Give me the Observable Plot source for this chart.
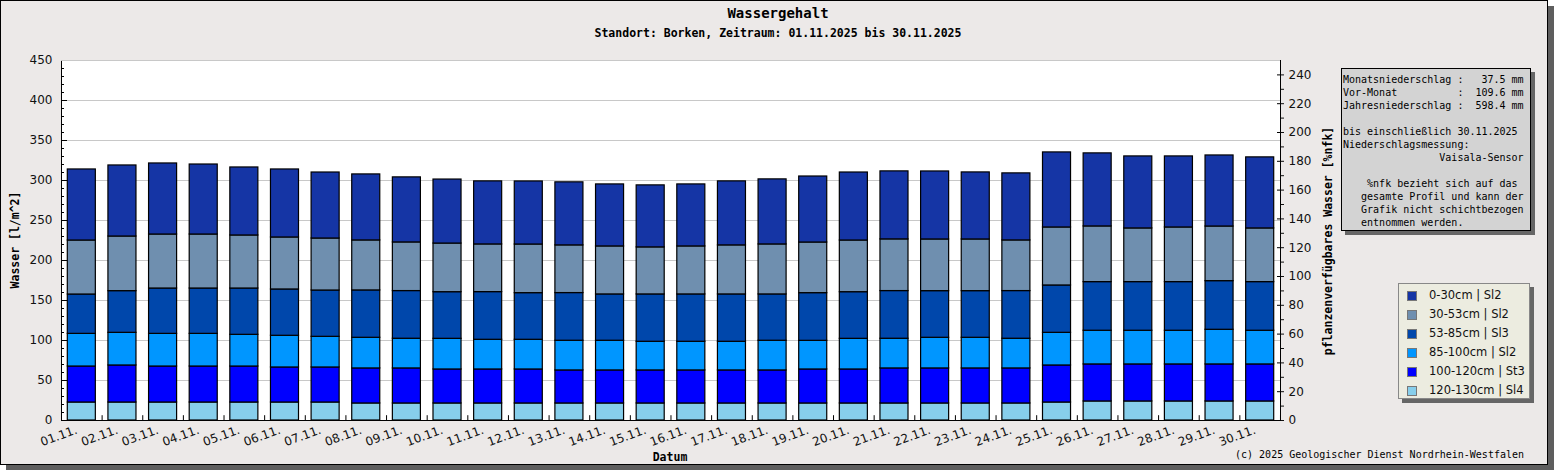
<!DOCTYPE html>
<html><head><meta charset="utf-8">
<script src="https://cdn.jsdelivr.net/npm/d3@7"></script>
<script src="https://cdn.jsdelivr.net/npm/@observablehq/plot@0.6"></script>
<style>
body{margin:0;background:#fff;}
#wrap{position:relative;width:1555px;height:470px;overflow:hidden;background:#fff;}
#box{position:absolute;left:0;top:0;width:1548px;height:465px;box-sizing:border-box;border:1px solid #000;background:#ECE9E8;box-shadow:6px 6px 0 #5e5e5e;}
#chart{position:absolute;left:0;top:0;}
.mono{font-family:"DejaVu Sans Mono",monospace;color:#000;position:absolute;white-space:pre;}
#title{left:0;width:1556px;text-align:center;top:5px;font-size:14px;font-weight:bold;}
#subtitle{left:0;width:1556px;text-align:center;top:26px;font-size:11.5px;font-weight:bold;}
.ytitle{font-size:11.5px;font-weight:bold;transform:translate(-50%,-50%) rotate(-90deg);}
#datum{left:670px;top:457px;transform:translate(-50%,-50%);font-size:11.5px;font-weight:bold;}
#caption{right:31px;top:449px;font-size:10px;}
#info{left:1341px;top:68px;width:190px;height:163px;box-sizing:border-box;border:1px solid #000;background:#D3D3D3;box-shadow:4px 4px 0 #666;font-size:10px;line-height:13px;padding:4px 0 0 1px;}
#legend{position:absolute;left:1398px;top:283px;width:132px;height:116px;box-sizing:border-box;border:1px solid #888;background:#ECECE0;box-shadow:4px 4px 0 #666;}
.li{position:absolute;left:8px;height:19px;font-family:"DejaVu Sans",sans-serif;font-size:11.5px;color:#111;}
.sw{position:absolute;left:0;top:0;width:10px;height:10px;box-sizing:border-box;border:1px solid #777;}
.lt{position:absolute;left:22px;top:-3px;white-space:nowrap;}
</style></head><body>
<div id="wrap">
<div id="box"></div>
<div id="chart"></div>
<div id="title" class="mono">Wassergehalt</div>
<div id="subtitle" class="mono">Standort: Borken, Zeitraum: 01.11.2025 bis 30.11.2025</div>
<div class="mono ytitle" style="left:15px;top:240px;">Wasser [l/m^2]</div>
<div class="mono ytitle" style="left:1328px;top:241px;">pflanzenverfügbares Wasser [%nfk]</div>
<div id="datum" class="mono">Datum</div>
<div id="caption" class="mono">(c) 2025 Geologischer Dienst Nordrhein-Westfalen</div>
<div id="info" class="mono"></div>
<div id="legend"></div>
</div>
<script>
const dates = ["01.11.","02.11.","03.11.","04.11.","05.11.","06.11.","07.11.","08.11.","09.11.","10.11.",
  "11.11.","12.11.","13.11.","14.11.","15.11.","16.11.","17.11.","18.11.","19.11.","20.11.",
  "21.11.","22.11.","23.11.","24.11.","25.11.","26.11.","27.11.","28.11.","29.11.","30.11."];
const layers = ["0-30cm | Sl2","30-53cm | Sl2","53-85cm | Sl3","85-100cm | Sl2","100-120cm | St3","120-130cm | Sl4"];
const colors = ["#1535A5","#6F8FAF","#0047AB","#0096FF","#0000FF","#87CEEB"];
// water per layer [l/m^2]
const w0_30 = [88.8,88.8,88.8,87.5,85,85,82.5,82.5,81.3,80, 78.8,78.8,78.8,77.5,77.5,77.5,80,81.3,82.5,85, 85,85,83.8,83.8,93.8,91.3,90,88.8,88.8,88.8];
const w30_53 = [67.5,68.3,67.5,67.5,66.3,65,65,62.5,60.8,60.8, 59.6,60.8,59.6,60,58.8,60,61.3,62.5,63.3,64.6, 64.6,64.6,64.6,63.3,72.5,69.6,67.1,68.3,68.3,67.1];
const w53_85 = [49.2,52.1,56.7,56.7,57.9,57.9,57.9,59.2,59.6,58.3, 59.6,58.3,59.6,57.9,59.2,59.2,59.2,57.9,59.6,58.3, 59.6,58.3,58.3,59.6,59.2,60.8,60.8,60.8,60.8,60.8];
const w85_100 = [40.8,40.8,40.8,40.8,39.6,39.6,38.3,38.3,37.1,38.3, 37.1,37.1,37.1,37.1,35.8,35.8,35.8,37.1,35.8,38.3, 37.1,38.3,38.3,37.1,40.8,42.1,42.1,42.1,43.3,42.1];
const w100_120 = [45,46.3,45,45,45,43.8,43.8,43.8,43.8,42.5, 42.5,42.5,41.3,41.3,41.3,41.3,41.3,41.3,42.5,42.5, 43.8,43.8,43.8,43.8,46.3,46.3,46.3,46.3,46.3,46.3];
const w120_130 = [22.5,22.5,22.5,22.5,22.5,22.5,22.5,21.3,21.3,21.3, 21.3,21.3,21.3,21.3,21.3,21.3,21.3,21.3,21.3,21.3, 21.3,21.3,21.3,21.3,22.5,23.8,23.8,23.8,23.8,23.8];
const leftMajor = [0,50,100,150,200,250,300,350,400,450];
const leftMinor = [0,10,20,30,40,50,60,70,80,90,100,110,120,130,140,150,160,170,180,190,200,210,220,230,240,250,260,270,280,290,300,310,320,330,340,350,360,370,380,390,400,410,420,430,440,450];
const rightMajor = [0,20,40,60,80,100,120,140,160,180,200,220,240];
const rightMinor = [10,30,50,70,90,110,130,150,170,190,210,230];
const rightMax = 250; // %nfk at top of the left axis (450)
const infoLines = [
 "Monatsniederschlag :   37.5 mm",
 "Vor-Monat          :  109.6 mm",
 "Jahresniederschlag :  598.4 mm",
 "",
 "bis einschließlich 30.11.2025",
 "Niederschlagsmessung:",
 "                Vaisala-Sensor",
 "",
 "    %nfk bezieht sich auf das",
 "   gesamte Profil und kann der",
 "   Grafik nicht schichtbezogen",
 "   entnommen werden."
];

const series = [w0_30, w30_53, w53_85, w85_100, w100_120, w120_130];
const table = [];
for (let li = layers.length - 1; li >= 0; li--) {
  dates.forEach((d, i) => table.push({date: d, layer: layers[li], value: series[li][i]}));
}
const k = 450 / rightMax;

const chart = Plot.plot({
  width: 1555, height: 470,
  marginLeft: 61, marginRight: 275, marginTop: 60, marginBottom: 50,
  style: {background: "transparent", overflow: "visible", fontFamily: "DejaVu Sans, sans-serif", fontSize: "12px", color: "#111"},
  x: {domain: dates, paddingInner: 0.31, paddingOuter: 0.155, round: false, axis: null},
  y: {domain: [0, 450], axis: null},
  color: {domain: layers, range: colors},
  marks: [
    Plot.frame({fill: "white", stroke: null}),
    Plot.gridY({ticks: leftMajor, stroke: "#c8c8c8", strokeOpacity: 1}),
    Plot.barY(table, {x: "date", y: "value", fill: "layer", stroke: "black", strokeWidth: 1.2}),
    Plot.tickY(leftMinor, {stroke: "black", insetRight: 1216}),
    Plot.tickY(leftMajor, {stroke: "black", insetRight: 1213}),
    Plot.tickY(rightMajor.map(v => v * k), {stroke: "black", insetLeft: 1216}),
    Plot.ruleX(dates, {x: d => d, y1: 0, y2: 6, dx: 20.3, stroke: "black"}),
    Plot.frame({stroke: "black"}),
    Plot.ruleY([450], {stroke: "#c8c8c8"}),
    Plot.axisY({ticks: leftMajor, anchor: "left", tickSize: 0, tickPadding: 9, label: null}),
    Plot.axisY({ticks: rightMajor.map(v => v * k), anchor: "right", tickSize: 3, tickPadding: 5, tickFormat: d => String(Math.round(d / k)), label: null}),
    Plot.axisY({ticks: rightMinor.map(v => v * k), anchor: "right", tickSize: 3, tickFormat: () => "", label: null}),
    Plot.axisX({anchor: "bottom", tickSize: 0, tickPadding: 9, tickRotate: -20, dx: -5, label: null})
  ]
});
document.getElementById("chart").appendChild(chart);

document.getElementById("info").textContent = infoLines.join("\n");
const leg = document.getElementById("legend");
layers.forEach((l, i) => {
  const row = document.createElement("div");
  row.className = "li";
  row.style.top = (7 + i * 19) + "px";
  row.innerHTML = `<div class="sw" style="background:${colors[i]}"></div><div class="lt"></div>`;
  row.querySelector(".lt").textContent = l;
  leg.appendChild(row);
});
</script>
</body></html>
